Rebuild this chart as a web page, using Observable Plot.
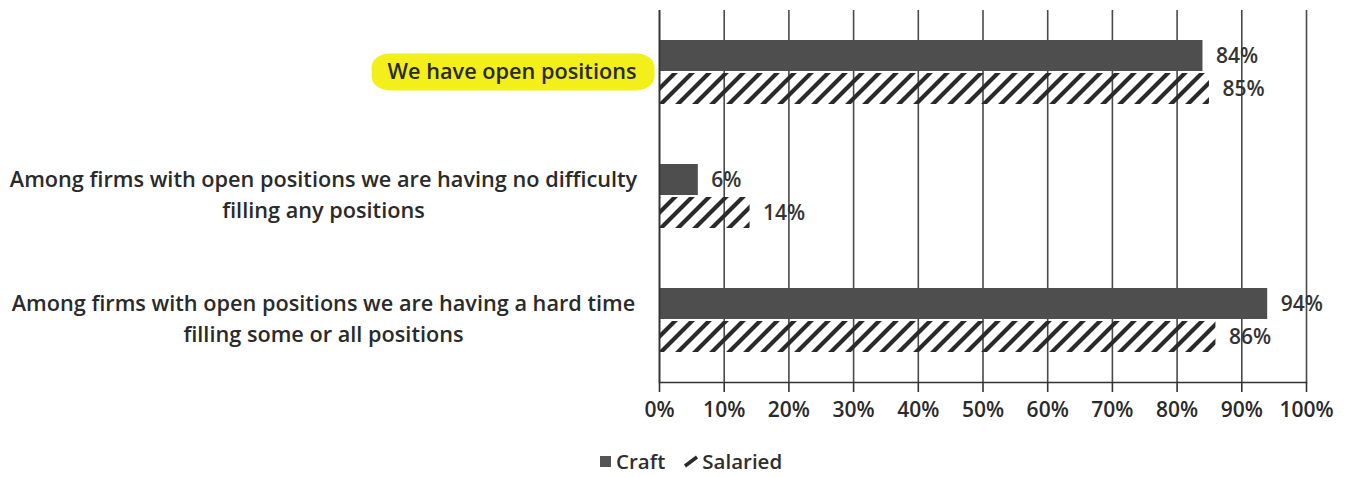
<!DOCTYPE html>
<html>
<head>
<meta charset="utf-8">
<script src="https://cdn.jsdelivr.net/npm/d3@7"></script>
<script src="https://cdn.jsdelivr.net/npm/@observablehq/plot@0.6"></script>
<style>
  body { margin: 0; background: #fff; font-family: "Open Sans", sans-serif; }
  #legend { position: absolute; left: 598px; top: 447px; font-size: 20.5px; font-weight: 600; color: #2e2e2e; display: flex; align-items: center; gap: 2px; }
  #legend span { display: inline-flex; align-items: center; }
</style>
</head>
<body>
<div id="chart"></div>
<div id="legend"></div>
<script>
const categories = [
  "We have open positions",
  "Among firms with open positions we are having no difficulty\nfilling any positions",
  "Among firms with open positions we are having a hard time\nfilling some or all positions"
];
const series = ["Craft", "Salaried"];
const craft = [84, 6, 94];
const salaried = [85, 14, 86];
const xTicks = [0, 10, 20, 30, 40, 50, 60, 70, 80, 90, 100];

const rows = [];
categories.forEach((c, i) => {
  rows.push({category: c, series: "Craft", value: craft[i]});
  rows.push({category: c, series: "Salaried", value: salaried[i]});
});
const catRows = categories.map(c => ({category: c}));

const ns = "http://www.w3.org/2000/svg";
function defs() {
  const g = document.createElementNS(ns, "defs");
  g.innerHTML = `<pattern id="hatch" patternUnits="userSpaceOnUse" width="17" height="17">
    <path d="M-4.25,4.25 l8.5,-8.5 M0,17 l17,-17 M12.75,21.25 l8.5,-8.5" stroke="#2a2a2a" stroke-width="4.2"/>
  </pattern>`;
  return g;
}

const labelFont = 21.7;
const chart = Plot.plot({
  width: 1346,
  height: 445,
  marginLeft: 659,
  marginRight: 40,
  marginTop: 10,
  marginBottom: 63,
  style: {fontFamily: "'Open Sans', sans-serif", background: "#fff"},
  x: {domain: [0, 100]},
  fy: {domain: categories, padding: 0, axis: null},
  y: {domain: series, paddingInner: 0.05, paddingOuter: 0.85, axis: null},
  marks: [
    defs,
    Plot.ruleX(xTicks, {stroke: "#4a4a4a", strokeWidth: 1.6}),
    Plot.barX(rows, {x: "value", y: "series", fy: "category",
      fill: d => d.series === "Craft" ? "#4e4e4e" : "url(#hatch)"}),
    Plot.text(rows, {x: "value", y: "series", fy: "category", text: d => d.value + "%",
      textAnchor: "start", dx: 13, fontSize: 21, fill: "#333", fontWeight: 600}),
    Plot.ruleX([0], {stroke: "#333", strokeWidth: 1.6}),
    Plot.frame({anchor: "bottom", fy: [categories[2]], stroke: "#333", strokeWidth: 1.6}),
    Plot.text(catRows.slice(0, 1), {fy: "category", text: "category", frameAnchor: "left",
      textAnchor: "end", dx: -23, fontSize: labelFont, fontWeight: 600, fill: "#2a2a2a", className: "hl"}),
    Plot.text(catRows.slice(1), {fy: "category", text: "category", frameAnchor: "left",
      textAnchor: "middle", dx: -336, dy: -4, fontSize: labelFont, fontWeight: 600, lineHeight: 1.43, fill: "#2a2a2a"}),
    Plot.axisX({ticks: xTicks, tickFormat: d => d + "%", tickSize: 10, tickPadding: 10,
      fontSize: 21, fontWeight: 600, stroke: "#333", strokeWidth: 1.6, color: "#2a2a2a", label: null})
  ]
});
document.getElementById("chart").appendChild(chart);

// highlighter behind the first category label, sized from the label's own box
chart.querySelectorAll("g.hl text").forEach(t => {
  const b = t.getBBox();
  const r = document.createElementNS(ns, "rect");
  r.setAttribute("x", b.x - 16);
  r.setAttribute("y", b.y - 3);
  r.setAttribute("width", b.width + 34);
  r.setAttribute("height", b.height + 8);
  r.setAttribute("rx", 18);
  r.setAttribute("ry", 14);
  r.setAttribute("fill", "#f2ef1a");
  if (t.getAttribute("transform")) r.setAttribute("transform", t.getAttribute("transform"));
  t.parentNode.insertBefore(r, t);
});

const legend = document.getElementById("legend");
series.forEach((s, i) => {
  const sp = document.createElement("span");
  const sw = i === 0
    ? `<svg width="15" height="14" style="margin-right:3px"><rect x="2" y="2" width="11" height="11" fill="#555"/></svg>`
    : `<svg width="20" height="14" style="margin-left:14px;margin-right:1px"><path d="M4,12 L16,3" stroke="#2a2a2a" stroke-width="3.5"/></svg>`;
  sp.innerHTML = sw + s;
  legend.appendChild(sp);
});
</script>
</body>
</html>
